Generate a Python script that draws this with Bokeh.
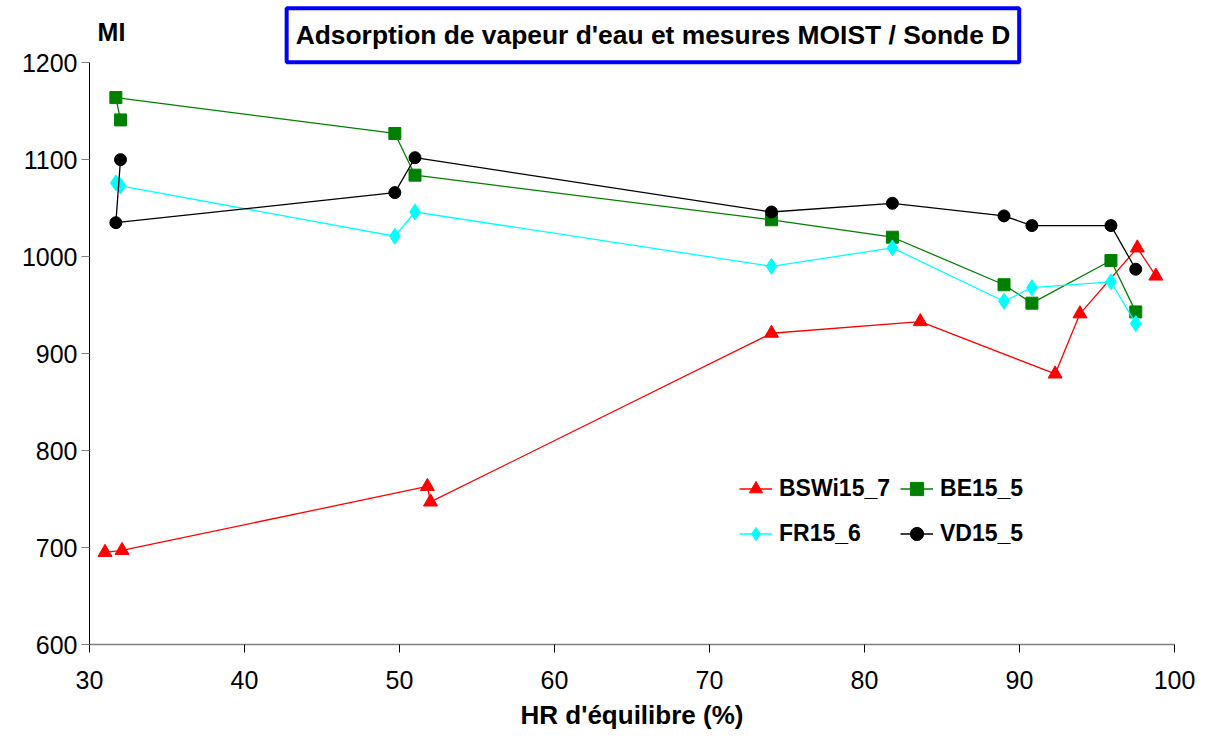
from bokeh.plotting import figure
from bokeh.models import Label, Legend, LegendItem, FixedTicker, Range1d
from bokeh.embed import file_html
from bokeh.resources import INLINE

# ---- data ----
bswi_x = [31.0, 32.1, 51.8, 52.0, 74.0, 83.6, 92.3, 93.9, 97.6, 98.8]
bswi_y = [695, 697, 763, 747, 921, 933, 879, 941, 1009, 980]

be_x = [32.0, 31.7, 49.7, 51.0, 74.0, 81.8, 89.0, 90.8, 95.9, 97.5]
be_y = [1141, 1164, 1127, 1084, 1038, 1020, 971, 952, 996, 943]

fr_x = [31.7, 32.0, 49.7, 51.0, 74.0, 81.8, 89.0, 90.8, 95.9, 97.5]
fr_y = [1076, 1073, 1021, 1046, 990, 1009, 954, 968, 974, 931]

vd_x = [32.0, 31.7, 49.7, 51.0, 74.0, 81.8, 89.0, 90.8, 95.9, 97.5]
vd_y = [1100, 1035, 1066, 1102, 1046, 1055, 1042, 1032, 1032, 987]

x_ticks = [30, 40, 50, 60, 70, 80, 90, 100]
y_ticks = [600, 700, 800, 900, 1000, 1100, 1200]

FONT = "Liberation Sans"

# y range extends above 1200 so the title and "MI" can sit inside the canvas;
# the axis itself is bounded to 600..1200
p = figure(width=1200, height=738, output_backend="svg", toolbar_location=None,
           x_range=Range1d(30, 100), y_range=Range1d(600, 1260),
           min_border_left=89, min_border_right=26, min_border_top=4, min_border_bottom=94)
p.title.visible = False
p.outline_line_color = None
p.xgrid.visible = False
p.ygrid.visible = False

for ax in (p.xaxis[0], p.yaxis[0]):
    ax.major_label_text_font = FONT
    ax.major_label_text_font_size = "25px"
    ax.major_label_text_color = "black"
    ax.major_tick_in = 0
    ax.major_tick_out = 8
    ax.minor_tick_in = 0
    ax.minor_tick_out = 0
    ax.major_tick_line_color = "black"

p.xaxis.ticker = FixedTicker(ticks=x_ticks)
p.yaxis.ticker = FixedTicker(ticks=y_ticks)
p.yaxis.bounds = (600, 1200)
p.xaxis.axis_line_color = "#808080"
p.xaxis.axis_line_width = 1.5
p.yaxis.axis_line_color = "black"
p.yaxis.major_tick_line_color = "#808080"
p.xaxis.major_label_standoff = 18
p.yaxis.major_label_standoff = 4
p.xaxis.axis_label = "HR d'équilibre (%)"
p.xaxis.axis_label_text_font = FONT
p.xaxis.axis_label_text_font_style = "bold"
p.xaxis.axis_label_text_font_size = "26px"
p.xaxis.axis_label_text_color = "black"
p.xaxis.axis_label_standoff = 8

series = [
    ("BSWi15_7", bswi_x, bswi_y, "#FF0000", "triangle", 14),
    ("BE15_5", be_x, be_y, "#008000", "square", 12),
    ("FR15_6", fr_x, fr_y, "#00FFFF", "diamond", 16),
    ("VD15_5", vd_x, vd_y, "black", "circle", 12),
]
items = {}
for name, xs, ys, col, mk, sz in series:
    l = p.line(xs, ys, line_color=col, line_width=1.3)
    s = p.scatter(xs, ys, marker=mk, size=sz, fill_color=col, line_color=col)
    items[name] = LegendItem(label=name, renderers=[l, s])

legend = Legend(items=[items["BSWi15_7"], items["BE15_5"], items["FR15_6"], items["VD15_5"]],
                orientation="horizontal", ncols=2,
                location=(650, 93),
                label_text_font=FONT, label_text_font_style="bold",
                label_text_font_size="23px", label_text_color="black",
                glyph_width=33, glyph_height=35, label_height=35,
                label_standoff=7, spacing=10, padding=0, margin=0,
                border_line_color=None, background_fill_alpha=0)
p.add_layout(legend)

title = Label(x=66.35, y=1228.4, text="Adsorption de vapeur d'eau et mesures MOIST / Sonde D",
              text_font=FONT, text_font_style="bold", text_font_size="26.4px",
              text_color="black",
              text_align="center", text_baseline="middle",
              border_line_color="#0000FF", border_line_width=4,
              background_fill_color="white", padding=(9, 12))
p.add_layout(title)

mi = Label(x=30.52, y=1231.4, text="MI", text_font=FONT, text_font_style="bold",
           text_font_size="25px", text_color="black",
           text_align="left", text_baseline="middle")
p.add_layout(mi)

open("out.html", "w").write(file_html(p, INLINE))
